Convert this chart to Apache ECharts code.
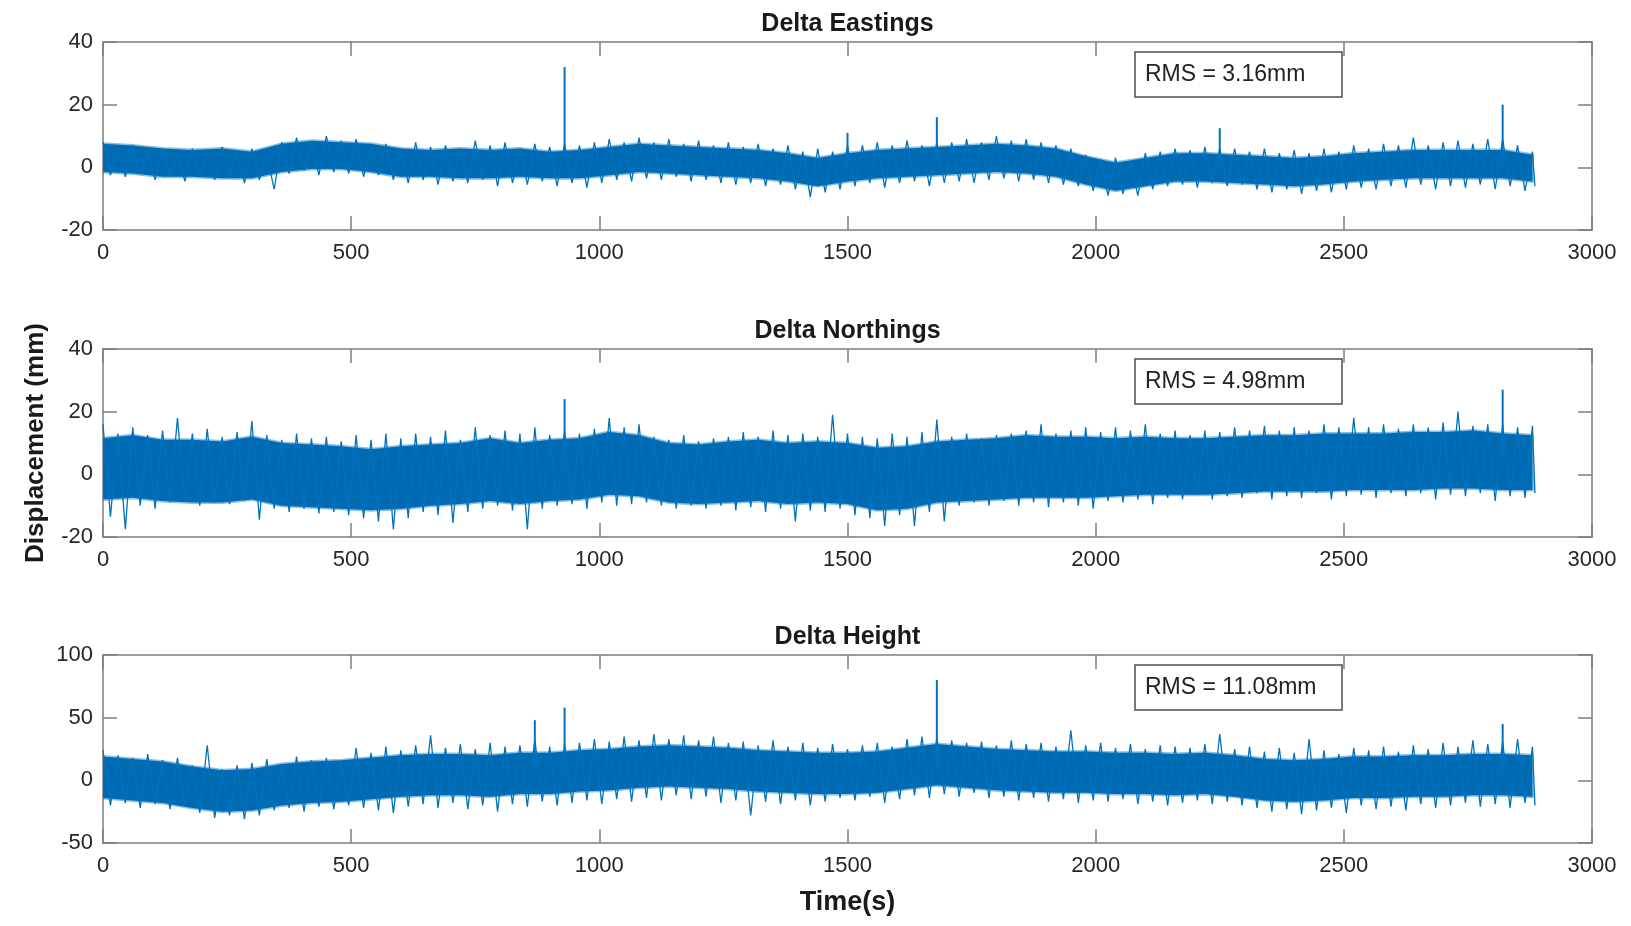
<!DOCTYPE html>
<html>
<head>
<meta charset="utf-8">
<title>Delta displacement</title>
<script src="https://cdn.jsdelivr.net/npm/echarts@6/dist/echarts.min.js"></script>
<style>
  html, body { margin: 0; padding: 0; background: #fff; }
  #chart { width: 1631px; height: 926px; }
</style>
</head>
<body>
<div id="chart"></div>
<script>
// bins: outer envelope every 30 s, dense core band every 60 s
var T_STEP = 30;
var CORE_STEP = 60;
var xTicks = [0, 500, 1000, 1500, 2000, 2500, 3000];

// Delta Eastings (mm)
var eastHi = [8, 6, 7, 5, 6, 4.5, 6, 5, 6.5, 5,
  6, 4, 8, 9.5, 8, 10, 8.5, 9, 7, 7.5,
  6, 8, 6.5, 7, 6, 8.5, 7, 8, 6, 7.5,
  6.5, 7.5, 7, 8, 9, 8, 9.5, 8, 9, 7.5,
  8.5, 7, 8, 6.5, 7.5, 6, 7, 5, 6, 5,
  7, 7, 8, 7, 8.5, 7, 8, 8, 9, 8,
  10, 8.5, 9, 8, 7, 6, 4, 2.5, 3, 2,
  4.5, 5, 6, 5.5, 6.5, 6, 6, 5, 6, 4.5,
  5.5, 4.5, 6, 5, 7, 6, 7.5, 7, 9.5, 7,
  8, 8.5, 7.5, 9, 9, 7, 5];
var eastLo = [-2.5, -3, -2, -4, -3, -4.5, -3, -4, -3.5, -5,
  -4, -7, -2, -1, -2.5, -1.5, -2, -3, -2.5, -4,
  -5, -4, -5.5, -4.5, -5, -4, -6, -5, -5.5, -4.5,
  -6, -5, -6.5, -5, -4, -4.5, -3.5, -4, -3, -4.5,
  -4, -5, -5.5, -5, -6, -5.5, -7, -9.5, -8, -7,
  -6, -5, -6.5, -5, -4.5, -6, -5, -4.5, -5, -4,
  -3.5, -4.5, -4, -5, -5.5, -6, -7.5, -9, -8.5, -9,
  -7, -6, -5.5, -6.5, -5, -6, -5.5, -7, -8, -7,
  -8.5, -7.5, -8, -7, -6.5, -7, -6, -6.5, -5.5, -7,
  -6, -6.5, -5.5, -7, -6, -7.5, -6];
var eastCoreHi = [7.5, 7, 6, 5.5, 6, 5, 7.5, 8.5, 8, 7.5,
  6, 5.5, 6, 5.5, 6, 5, 5.5, 6.5, 7.5, 7,
  6.5, 6, 5.5, 4.5, 3, 4.5, 5.5, 6, 6.5, 7,
  7.5, 7, 6, 3.5, 1.5, 3, 4.5, 4.5, 4, 3.5,
  3, 3.5, 4.5, 5, 5.5, 5.5, 5.5, 5.5, 4];
var eastCoreLo = [-1.5, -2, -3, -3, -3.5, -3.5, -1.5, -0.5, -0.5, -1.5,
  -3, -3, -3.5, -3.5, -3, -3.5, -3.5, -2.5, -1.5, -2,
  -2.5, -3, -3.5, -4.5, -6, -4.5, -3.5, -3, -2.5, -2,
  -1.5, -2, -3, -5.5, -7.5, -6, -4.5, -4.5, -5, -5.5,
  -6, -5.5, -4.5, -4, -3.5, -3.5, -3.5, -3.5, -4.5];
// [time, base, tip]
var eastSpikes = [[930, 3, 32], [1500, 1, 11], [1680, 3, 16], [2250, 0, 12.5], [2820, 1, 20]];

// Delta Northings (mm)
var northHi = [16, 13, 15, 12.5, 14, 18, 13, 14.5, 12, 13.5,
  17, 12.5, 11, 13, 11.5, 12, 10.5, 12.5, 11, 13,
  11.5, 13, 12, 14, 11, 15, 12.5, 14, 13, 15,
  12.5, 14, 13, 14.5, 18, 15, 16, 12, 11, 12.5,
  10.5, 11.5, 12, 13.5, 12, 14, 12.5, 13, 12, 19,
  13, 12, 11.5, 13, 12, 13.5, 17.5, 12, 13, 11.5,
  12.5, 13, 14, 16, 13, 14, 15, 13.5, 15, 14,
  16, 13, 14, 12.5, 14, 13.5, 15, 14, 15.5, 14,
  15, 14, 16, 15, 18, 15, 16, 14.5, 16, 15,
  16.5, 20, 15.5, 16, 16, 15, 15.5];
var northLo = [-13.5, -17.5, -10, -11, -9, -8.5, -10, -9, -9.5, -8.5,
  -14.5, -11, -12, -11, -12.5, -12, -13, -14, -15, -17.5,
  -14, -12, -13, -15.5, -12, -11, -10, -11.5, -17.5, -11,
  -10, -9.5, -11, -9, -10, -9.5, -9, -10, -11, -10,
  -11, -10, -11.5, -10.5, -12, -11, -15, -11.5, -12, -11,
  -13, -14, -16.5, -13, -16.5, -12, -15, -10, -9, -10,
  -8.5, -10, -9, -10.5, -9, -10, -11, -8.5, -9, -8,
  -9.5, -7.5, -8, -6.5, -8, -7, -7.5, -6, -8, -7,
  -7.5, -6, -8, -7, -6.5, -7.5, -6, -7, -6, -8,
  -6.5, -7, -6, -8.5, -7, -7.5, -6];
var northCoreHi = [11.5, 12.5, 11, 11, 10.5, 12, 10, 9.5, 9, 8,
  9, 9.5, 10, 11.5, 10, 11, 11.5, 13.5, 12.5, 10,
  9.5, 10.5, 11, 10, 10.5, 10, 8.5, 9, 10.5, 11,
  11.5, 12.5, 12, 12, 11.5, 12, 11.5, 11.5, 12, 12.5,
  12.5, 13, 13, 13, 13.5, 13.5, 14, 13, 12.5];
var northCoreLo = [-8, -7.5, -8.5, -9, -9, -8, -10, -10.5, -11, -11.5,
  -11, -10, -9.5, -8.5, -9.5, -8.5, -8, -6.5, -7, -9,
  -9.5, -9, -8.5, -9.5, -9, -9.5, -11.5, -11, -9, -8.5,
  -8, -7.5, -7.5, -7.5, -7, -6.5, -6.5, -6.5, -6, -5.5,
  -5.5, -5.5, -5, -5, -5, -4.5, -4.5, -5, -5];
var northSpikes = [[930, 2, 24], [2820, 5, 27]];

// Delta Height (mm)
var heightHi = [24, 20, 18, 21, 16, 18, 12, 28, 9, 12,
  14, 17, 13, 19, 16, 18, 15, 26, 22, 27,
  24, 28, 36, 26, 29, 25, 30, 27, 28, 33,
  27, 29, 30, 33, 31, 35, 32, 37, 33, 36,
  32, 35, 30, 31, 28, 32, 27, 30, 26, 29,
  25, 28, 30, 27, 33, 35, 34, 32, 30, 31,
  28, 32, 29, 30, 27, 40, 28, 30, 26, 29,
  25, 28, 27, 26, 29, 37, 25, 27, 23, 26,
  22, 33, 24, 21, 26, 24, 27, 23, 28, 25,
  30, 27, 32, 29, 31, 33, 27];
var heightLo = [-20, -18, -22, -19, -23, -20, -26, -30, -28, -31,
  -28, -24, -22, -25, -21, -23, -20, -22, -24, -26,
  -21, -19, -22, -18, -23, -20, -25, -19, -21, -17,
  -20, -18, -16, -19, -15, -17, -14, -16, -12, -15,
  -13, -18, -16, -28, -17, -19, -16, -20, -17, -14,
  -16, -13, -18, -15, -12, -14, -11, -13, -10, -14,
  -13, -16, -14, -17, -15, -18, -16, -17, -15, -19,
  -17, -20, -18, -16, -19, -17, -20, -22, -25, -23,
  -27, -24, -22, -26, -20, -23, -21, -24, -19, -22,
  -20, -18, -21, -19, -22, -18, -20];
var heightCoreHi = [19, 17, 15, 11, 8, 9, 13, 15, 16, 18,
  20, 21, 21, 20, 22, 22, 24, 25, 27, 28,
  27, 26, 24, 23, 22, 22, 23, 26, 29, 27,
  25, 24, 23, 23, 22, 22, 21, 22, 20, 17,
  16, 17, 19, 19, 20, 20, 21, 21, 20];
var heightCoreLo = [-14, -16, -18, -22, -25, -24, -20, -18, -17, -15,
  -13, -12, -12, -13, -11, -11, -9, -8, -6, -5,
  -6, -7, -9, -10, -11, -11, -10, -7, -4, -6,
  -8, -9, -10, -10, -11, -11, -12, -11, -13, -16,
  -17, -16, -14, -14, -13, -13, -12, -12, -13];
var heightSpikes = [[870, 8, 48], [930, 8, 58], [1680, 12, 80], [2820, 5, 45]];

var panels = [
  { title: 'Delta Eastings', rms: 'RMS = 3.16mm', yMin: -20, yMax: 40, yStep: 20,
    hi: eastHi, lo: eastLo, coreHi: eastCoreHi, coreLo: eastCoreLo, spikes: eastSpikes },
  { title: 'Delta Northings', rms: 'RMS = 4.98mm', yMin: -20, yMax: 40, yStep: 20,
    hi: northHi, lo: northLo, coreHi: northCoreHi, coreLo: northCoreLo, spikes: northSpikes },
  { title: 'Delta Height', rms: 'RMS = 11.08mm', yMin: -50, yMax: 100, yStep: 50,
    hi: heightHi, lo: heightLo, coreHi: heightCoreHi, coreLo: heightCoreLo, spikes: heightSpikes }
];

var BLUE = '#0072BD';
var CORE = '#006ab3';
var AXIS = '#7d7d7d';
var LABEL = '#262626';
var FONT = '"Liberation Sans", Arial, Helvetica, sans-serif';

var PLOT_LEFT = 103, PLOT_W = 1489, PLOT_H = 188;
var GRID_TOPS = [42, 349, 655];

// min/max pairs per bin -> one trace going up to the bin max and down to its min
function zigzag(hi, lo) {
  var pts = [];
  for (var i = 0; i < hi.length; i++) {
    var t = i * T_STEP;
    pts.push([t, hi[i]]);
    pts.push([Math.min(t + T_STEP / 2, 2885), lo[i]]);
  }
  return pts;
}

function bandRender(hi, lo) {
  return function (params, api) {
    var pts = [];
    for (var i = 0; i < hi.length; i++) pts.push(api.coord([i * CORE_STEP, hi[i]]));
    for (var j = lo.length - 1; j >= 0; j--) pts.push(api.coord([j * CORE_STEP, lo[j]]));
    return { type: 'polygon', shape: { points: pts },
      style: { fill: CORE, stroke: 'rgba(0,114,189,0.45)', lineWidth: 3, lineJoin: 'round' } };
  };
}

function spikeRender(params, api) {
  var a = api.coord([api.value(0), api.value(1)]);
  var b = api.coord([api.value(0), api.value(2)]);
  return { type: 'line', shape: { x1: a[0], y1: a[1], x2: b[0], y2: b[1] },
    style: { stroke: BLUE, lineWidth: 2 } };
}

function xAx(k, pos) {
  return {
    gridIndex: k, type: 'value', position: pos, min: xTicks[0], max: xTicks[xTicks.length - 1], interval: 500,
    axisLine: { show: true, onZero: false, lineStyle: { color: AXIS, width: 1.5 } },
    axisTick: { show: true, inside: true, length: 14, lineStyle: { color: AXIS, width: 1.5 } },
    axisLabel: { show: pos === 'bottom', fontSize: 22, color: LABEL, margin: 12, fontFamily: FONT,
      formatter: function (v) { return String(v); } },
    splitLine: { show: false }
  };
}

function yAx(k, pos, p) {
  return {
    gridIndex: k, type: 'value', position: pos, min: p.yMin, max: p.yMax, interval: p.yStep,
    axisLine: { show: true, onZero: false, lineStyle: { color: AXIS, width: 1.5 } },
    axisTick: { show: true, inside: true, length: 14, lineStyle: { color: AXIS, width: 1.5 } },
    axisLabel: { show: pos === 'left', fontSize: 22, color: LABEL, margin: 10, fontFamily: FONT,
      formatter: function (v) { return String(v); } },
    splitLine: { show: false }
  };
}

var grids = [], xAxes = [], yAxes = [], series = [], graphics = [];

panels.forEach(function (p, k) {
  var top = GRID_TOPS[k];
  grids.push({ left: PLOT_LEFT, top: top, width: PLOT_W, height: PLOT_H });
  xAxes.push(xAx(k, 'bottom'), xAx(k, 'top'));
  yAxes.push(yAx(k, 'left', p), yAx(k, 'right', p));

  series.push({
    type: 'custom', xAxisIndex: 2 * k, yAxisIndex: 2 * k, clip: true, z: 2,
    data: [[0, 0]], encode: { x: 0, y: 1 },
    renderItem: bandRender(p.coreHi, p.coreLo)
  });
  series.push({
    type: 'line', xAxisIndex: 2 * k, yAxisIndex: 2 * k, z: 3,
    data: zigzag(p.hi, p.lo), symbol: 'none', showSymbol: false, clip: true,
    lineStyle: { color: BLUE, width: 1.3 }, sampling: null
  });
  series.push({
    type: 'custom', xAxisIndex: 2 * k, yAxisIndex: 2 * k, clip: true, z: 4,
    data: p.spikes, encode: { x: 0, y: [1, 2] },
    renderItem: spikeRender
  });

  graphics.push({
    type: 'text', x: PLOT_LEFT + PLOT_W / 2, y: top - 18,
    style: { text: p.title, fontSize: 25, fontWeight: 'bold', fontFamily: FONT, fill: '#1a1a1a',
      align: 'center', verticalAlign: 'middle' }
  });
  graphics.push({
    type: 'rect', shape: { x: 1135, y: top + 10, width: 207, height: 45 },
    style: { fill: '#fff', stroke: '#4d4d4d', lineWidth: 1.5 }, z: 10
  });
  graphics.push({
    type: 'text', x: 1145, y: top + 33, z: 11,
    style: { text: p.rms, fontSize: 23, fontFamily: FONT, fill: '#222',
      align: 'left', verticalAlign: 'middle' }
  });
});

graphics.push({
  type: 'text', x: 36, y: 443, rotation: Math.PI / 2,
  style: { text: 'Displacement (mm)', fontSize: 26, fontWeight: 'bold', fontFamily: FONT, fill: '#1a1a1a',
    align: 'center', verticalAlign: 'middle' }
});
graphics.push({
  type: 'text', x: PLOT_LEFT + PLOT_W / 2, y: 903,
  style: { text: 'Time(s)', fontSize: 27, fontWeight: 'bold', fontFamily: FONT, fill: '#1a1a1a',
    align: 'center', verticalAlign: 'middle' }
});

var myChart = echarts.init(document.getElementById('chart'));
myChart.setOption({
  animation: false,
  backgroundColor: '#fff',
  grid: grids,
  xAxis: xAxes,
  yAxis: yAxes,
  series: series,
  graphic: graphics
});
</script>
</body>
</html>
